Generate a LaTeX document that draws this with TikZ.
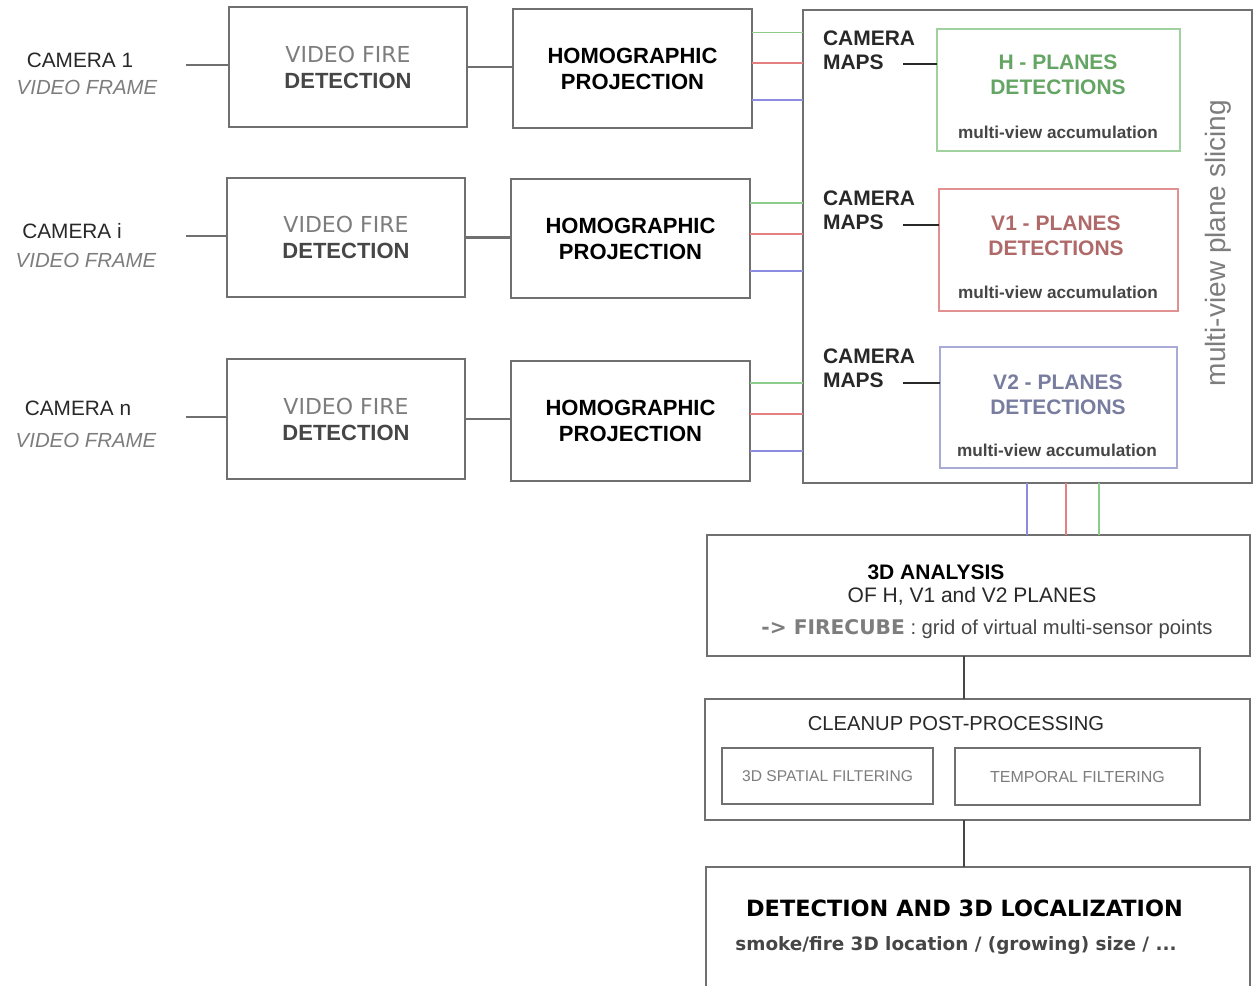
\documentclass[tikz,border=0pt]{standalone}
\usepackage{fontspec}
\setmainfont{Liberation Sans}
\newfontfamily\verdfont{DejaVu Sans}
\usepackage{tikz}

\begin{document}
\begin{tikzpicture}[x=0.5pt,y=-0.5pt,
  box/.style={draw=boxColor,line width=1.1pt,inner sep=0pt,outer sep=0pt,align=center},
  planebox/.style={draw=#1,line width=0.9pt,inner sep=0pt,outer sep=0pt,minimum width=120pt,minimum height=61pt},
  txt/.style={inner sep=0pt,outer sep=0pt,align=center},
  link/.style={draw=boxColor,line width=1.1pt},
  clink/.style={draw=#1,line width=0.9pt}]
\definecolor{boxColor}{RGB}{112,112,112}
\definecolor{darkText}{RGB}{40,40,40}
\definecolor{greyText}{RGB}{125,125,125}
\definecolor{midText}{RGB}{70,70,70}
\definecolor{gLine}{RGB}{140,205,140}
\definecolor{rLine}{RGB}{228,128,128}
\definecolor{bLine}{RGB}{140,140,225}
\definecolor{gBox}{RGB}{160,210,160}
\definecolor{rBox}{RGB}{225,145,145}
\definecolor{bBox}{RGB}{170,170,215}
\definecolor{gText}{RGB}{100,165,100}
\definecolor{rText}{RGB}{175,105,105}
\definecolor{bText}{RGB}{120,125,160}

\path[use as bounding box,fill=white] (0,0) rectangle (1254,986);
\begin{scope}
\path[clip] (0,0) rectangle (1254,986);

% camera inputs
\node[txt,text=darkText,font=\fontsize{10.4}{12}\selectfont] (cam1) at (80,60) {CAMERA 1};
\node[txt,text=greyText,font=\fontsize{10.2}{12}\selectfont\itshape] (frm1) at (87,87) {VIDEO FRAME};
\node[txt,text=darkText,font=\fontsize{10.4}{12}\selectfont] (cam2) at (72,231) {CAMERA i};
\node[txt,text=greyText,font=\fontsize{10.2}{12}\selectfont\itshape] (frm2) at (86,260) {VIDEO FRAME};
\node[txt,text=darkText,font=\fontsize{10.4}{12}\selectfont] (cam3) at (78,408) {CAMERA n};
\node[txt,text=greyText,font=\fontsize{10.2}{12}\selectfont\itshape] (frm3) at (86,440) {VIDEO FRAME};
\coordinate (in1) at (186,65);
\coordinate (in2) at (186,236);
\coordinate (in3) at (186,417);

% video fire detection
\node[box,minimum width=119pt,minimum height=60pt,font=\fontsize{11}{13}\selectfont] (vfd1) at (348,67)
  {\textcolor{greyText}{\verdfont VIDEO FIRE}\\\textcolor{midText}{\bfseries DETECTION}};
\node[box,minimum width=119pt,minimum height=59.5pt,font=\fontsize{11}{13}\selectfont] (vfd2) at (346,237.5)
  {\textcolor{greyText}{\verdfont VIDEO FIRE}\\\textcolor{midText}{\bfseries DETECTION}};
\node[box,minimum width=119pt,minimum height=60pt,font=\fontsize{11}{13}\selectfont] (vfd3) at (346,419)
  {\textcolor{greyText}{\verdfont VIDEO FIRE}\\\textcolor{midText}{\bfseries DETECTION}};

% homographic projection
\node[box,minimum width=119.5pt,minimum height=59.5pt,font=\fontsize{11}{13}\selectfont\bfseries] (hp1) at (632.5,68.5)
  {HOMOGRAPHIC\\PROJECTION};
\node[box,minimum width=119.5pt,minimum height=59.5pt,font=\fontsize{11}{13}\selectfont\bfseries] (hp2) at (630.5,238.5)
  {HOMOGRAPHIC\\PROJECTION};
\node[box,minimum width=119.5pt,minimum height=60pt,font=\fontsize{11}{13}\selectfont\bfseries] (hp3) at (630.5,421)
  {HOMOGRAPHIC\\PROJECTION};

% multi-view plane slicing
\node[box,minimum width=224.5pt,minimum height=236.5pt] (slice) at (1027.5,246.5) {};
\node[txt,rotate=90,text=greyText,font=\fontsize{14}{16}\selectfont] (slicelbl) at (1218,243) {multi-view plane slicing};

\node[txt,align=left,anchor=west,text=darkText,font=\fontsize{10.5}{12}\selectfont\bfseries] (maps1) at (823,50) {CAMERA\\MAPS};
\node[txt,align=left,anchor=west,text=darkText,font=\fontsize{10.5}{12}\selectfont\bfseries] (maps2) at (823,210.5) {CAMERA\\MAPS};
\node[txt,align=left,anchor=west,text=darkText,font=\fontsize{10.5}{12}\selectfont\bfseries] (maps3) at (823,368.5) {CAMERA\\MAPS};
\coordinate (m1) at (903,64);
\coordinate (m2) at (903,225);
\coordinate (m3) at (903,383);

\node[planebox=gBox,minimum width=121.5pt] (hbox) at (1058.5,90) {};
\node[planebox=rBox,minimum width=119.5pt] (vobox) at (1058.5,250) {};
\node[planebox=bBox,minimum width=118.5pt,minimum height=60.5pt] (vtbox) at (1058.5,407.5) {};

\node[txt,text=gText,font=\fontsize{10.5}{12.5}\selectfont\bfseries] (htxt) at (1058,75) {H - PLANES\\DETECTIONS};
\node[txt,text=rText,font=\fontsize{10.5}{12.5}\selectfont\bfseries] (votxt) at (1056,235.5) {V1 - PLANES\\DETECTIONS};
\node[txt,text=bText,font=\fontsize{10.5}{12.5}\selectfont\bfseries] (vttxt) at (1058,394.5) {V2 - PLANES\\DETECTIONS};
\node[txt,text=midText,font=\fontsize{8.6}{10}\selectfont\bfseries] (hacc) at (1058,132) {multi-view accumulation};
\node[txt,text=midText,font=\fontsize{8.6}{10}\selectfont\bfseries] (voacc) at (1058,292) {multi-view accumulation};
\node[txt,text=midText,font=\fontsize{8.6}{10}\selectfont\bfseries] (vtacc) at (1057,450) {multi-view accumulation};

% 3D analysis
\node[box,minimum width=271.5pt,minimum height=60.5pt] (ana) at (978.5,595.5) {};
\node[txt,text=black,font=\fontsize{10.5}{12}\selectfont\bfseries] (anatitle) at (936,572) {3D ANALYSIS};
\node[txt,text=darkText,font=\fontsize{10.5}{12}\selectfont] (anaplanes) at (972,596) {OF H, V1 and V2 PLANES};
\node[txt,text=midText,font=\fontsize{10.1}{12}\selectfont] (anacube) at (987,629)
  {{\verdfont\bfseries\color{greyText}-> FIRECUBE} : grid of virtual multi-sensor points};

% cleanup post-processing
\node[box,minimum width=272.5pt,minimum height=60.5pt] (clean) at (977.5,759.5) {};
\node[txt,text=darkText,font=\fontsize{10.1}{12}\selectfont] (cleantitle) at (956,724) {CLEANUP POST-PROCESSING};
\node[box,line width=0.9pt,minimum width=105.5pt,minimum height=28pt,text=greyText,font=\fontsize{7.8}{9}\selectfont] (spat) at (827.5,776) {3D SPATIAL FILTERING};
\node[box,line width=0.9pt,minimum width=122.5pt,minimum height=28.5pt,text=greyText,font=\fontsize{8}{9}\selectfont] (temp) at (1077.5,776.5) {TEMPORAL FILTERING};

% detection and localization
\node[box,minimum width=272pt,minimum height=75pt] (loc) at (978,942) {};
\node[txt,text=black,font=\fontsize{11.2}{13}\selectfont\verdfont\bfseries] (loctitle) at (964.5,908) {DETECTION AND 3D LOCALIZATION};
\node[txt,text=midText,font=\fontsize{9.2}{11}\selectfont\verdfont\bfseries] (locinfo) at (956,945) {smoke/fire 3D location / (growing) size / ...};

% connectors
\draw[link] (in1) -- (in1 -| vfd1.west);
\draw[link] (in2) -- (in2 -| vfd2.west);
\draw[link] (in3) -- (in3 -| vfd3.west);
\draw[link] (vfd1.east) -- (vfd1.east -| hp1.west);
\draw[link] (vfd2.east) -- (vfd2.east -| hp2.west);
\draw[link] (vfd3.east) -- (vfd3.east -| hp3.west);

\draw[clink=gLine] ([yshift=18pt]hp1.east) -- ([yshift=18pt]hp1.east -| slice.west);
\draw[clink=rLine] ([yshift=2.75pt]hp1.east) -- ([yshift=2.75pt]hp1.east -| slice.west);
\draw[clink=bLine] ([yshift=-15.75pt]hp1.east) -- ([yshift=-15.75pt]hp1.east -| slice.west);
\draw[clink=gLine] ([yshift=17.75pt]hp2.east) -- ([yshift=17.75pt]hp2.east -| slice.west);
\draw[clink=rLine] ([yshift=2.25pt]hp2.east) -- ([yshift=2.25pt]hp2.east -| slice.west);
\draw[clink=bLine] ([yshift=-16.25pt]hp2.east) -- ([yshift=-16.25pt]hp2.east -| slice.west);
\draw[clink=gLine] ([yshift=19pt]hp3.east) -- ([yshift=19pt]hp3.east -| slice.west);
\draw[clink=rLine] ([yshift=3.5pt]hp3.east) -- ([yshift=3.5pt]hp3.east -| slice.west);
\draw[clink=bLine] ([yshift=-15pt]hp3.east) -- ([yshift=-15pt]hp3.east -| slice.west);

\draw[link,draw=darkText] (m1) -- (m1 -| hbox.west);
\draw[link,draw=darkText] (m2) -- (m2 -| vobox.west);
\draw[link,draw=darkText] (m3) -- (m3 -| vtbox.west);

\draw[clink=bLine] ([xshift=-0.25pt]slice.south) -- ([xshift=-0.25pt]slice.south |- ana.north);
\draw[clink=rLine] ([xshift=19.25pt]slice.south) -- ([xshift=19.25pt]slice.south |- ana.north);
\draw[clink=gLine] ([xshift=35.75pt]slice.south) -- ([xshift=35.75pt]slice.south |- ana.north);

\draw[link,draw=midText] ([xshift=-7.25pt]ana.south) -- ([xshift=-7.25pt]ana.south |- clean.north);
\draw[link,draw=midText] ([xshift=-6.75pt]clean.south) -- ([xshift=-6.75pt]clean.south |- loc.north);
\end{scope}
\end{tikzpicture}
\end{document}
